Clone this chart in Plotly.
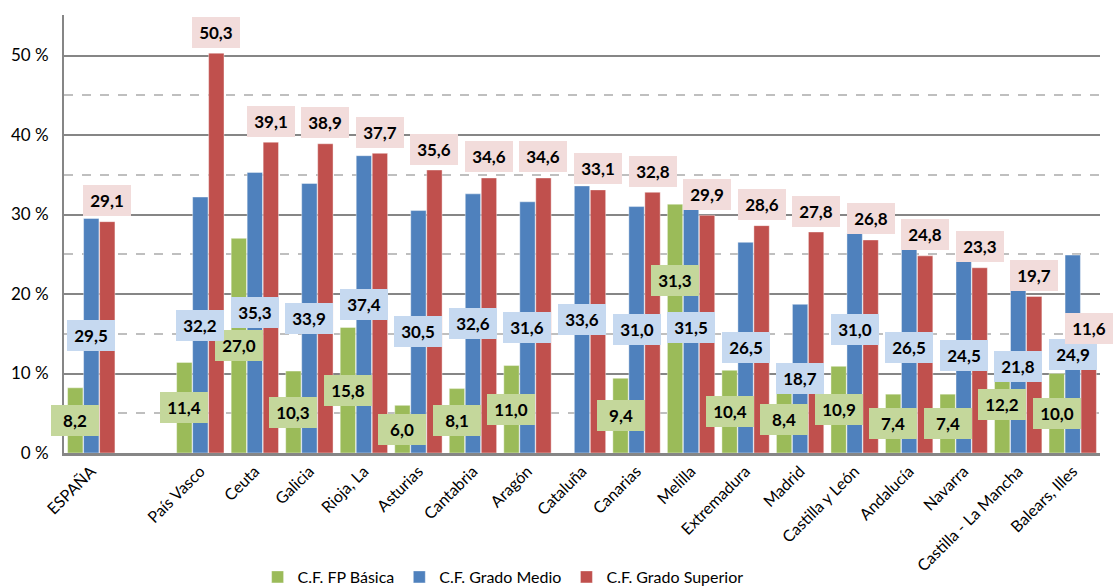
import plotly.graph_objects as go

# Categories (None = empty slot between ESPAÑA and the regions)
categories = ['ESPAÑA', None, 'País Vasco', 'Ceuta', 'Galicia', 'Rioja, La', 'Asturias',
              'Cantabria', 'Aragón', 'Cataluña', 'Canarias', 'Melilla', 'Extremadura',
              'Madrid', 'Castilla y León', 'Andalucía', 'Navarra', 'Castilla - La Mancha',
              'Balears, Illes']

# Bar heights as drawn (%)
fp_basica = [8.2, 11.4, 27.0, 10.3, 15.8, 6.0, 8.1, 11.0, None, 9.4, 31.3, 10.4,
             8.4, 10.9, 7.4, 7.4, 12.2, 10.0]
grado_medio = [29.5, 32.2, 35.3, 33.9, 37.4, 30.5, 32.6, 31.6, 33.6, 31.0, 31.0, 26.5,
               18.7, 27.7, 25.6, 24.2, 20.7, 24.9]
grado_superior = [29.1, 50.3, 39.1, 38.9, 37.7, 35.6, 34.6, 34.6, 33.1, 32.8, 29.9, 28.6,
                  27.8, 26.8, 24.8, 23.3, 19.7, 10.7]

# Data label values (as printed on the chart)
lbl_basica = [8.2, 11.4, 27.0, 10.3, 15.8, 6.0, 8.1, 11.0, None, 9.4, 31.3, 10.4,
              8.4, 10.9, 7.4, 7.4, 12.2, 10.0]
lbl_medio = [29.5, 32.2, 35.3, 33.9, 37.4, 30.5, 32.6, 31.6, 33.6, 31.0, 31.5, 26.5,
             18.7, 31.0, 26.5, 24.5, 21.8, 24.9]
lbl_superior = [29.1, 50.3, 39.1, 38.9, 37.7, 35.6, 34.6, 34.6, 33.1, 32.8, 29.9, 28.6,
                27.8, 26.8, 24.8, 23.3, 19.7, 11.6]

series_names = ['C.F. FP Básica', 'C.F. Grado Medio', 'C.F. Grado Superior']
bar_colors = ['#9bbb59', '#4f81bd', '#c0504d']
label_bg = ['#c4d79b', '#c6d9f0', '#f2dcdb']

pos = [i for i, c in enumerate(categories) if c is not None]
names = [c for c in categories if c is not None]

FONT = 'Lato, Calibri, sans-serif'
bargap = 0.12
bar_w = (1 - bargap) / 3

fig = go.Figure()
for name, vals, col in zip(series_names, [fp_basica, grado_medio, grado_superior], bar_colors):
    fig.add_trace(go.Bar(x=pos, y=vals, name=name, marker_color=col,
                         marker_line=dict(color='rgba(255,255,255,0.5)', width=0.8)))

# hand-moved labels in the original (extra shift in px)
nudges = {(0, 'Melilla'): 48, (2, 'Balears, Illes'): 11}

# data labels: green/blue centred in bar, red above bar
annotations = []
label_sets = [lbl_basica, lbl_medio, lbl_superior]
for k, labels in enumerate(label_sets):
    for p, v, cat in zip(pos, labels, names):
        if v is None:
            continue
        y = v / 2 if k < 2 else v
        yshift = 21 if k == 2 else 0
        yshift += nudges.get((k, cat), 0)
        annotations.append(dict(
            x=p + (k - 1) * bar_w, y=y, xref='x', yref='y', yshift=yshift,
            text='<b>' + f'{v:.1f}'.replace('.', ',') + '</b>',
            showarrow=False, bgcolor=label_bg[k], borderpad=6, borderwidth=0,
            width=36, height=19,
            font=dict(family=FONT, size=17, color='black')))

fig.update_layout(
    width=1118, height=587,
    margin=dict(l=64, r=18, t=15, b=134),
    paper_bgcolor='white', plot_bgcolor='white',
    barmode='group', bargap=bargap, bargroupgap=0.04,
    font=dict(family=FONT, size=16, color='black'),
    annotations=annotations,
    legend=dict(orientation='h', x=0.45, xanchor='center', xref='container',
                y=0.017, yanchor='middle', yref='container',
                font=dict(family=FONT, size=16, color='black'),
                traceorder='normal', itemwidth=30),
    xaxis=dict(range=[-0.5, len(categories) - 0.5], tickvals=pos, ticktext=names,
               tickangle=-45, showline=True, linecolor='#868686', linewidth=2.5,
               ticks='', showgrid=False, automargin=False,
               tickfont=dict(family=FONT, size=16, color='black')),
    yaxis=dict(range=[0, 55.1], dtick=10, ticksuffix=' %', showline=True,
               linecolor='#868686', linewidth=2, gridcolor='#868686', gridwidth=1.5,
               zeroline=False, ticks='', automargin=False, ticklabelstandoff=10,
               tickfont=dict(family=FONT, size=17, color='black'),
               minor=dict(dtick=5, showgrid=True, gridcolor='#bfbfbf', griddash='dash',
                          gridwidth=1.5)),
)

# drop the default page margin so the figure sits at the window's top-left corner
fig.write_html("out.html", config={'displayModeBar': False},
               post_script="document.body.style.margin='0';")
